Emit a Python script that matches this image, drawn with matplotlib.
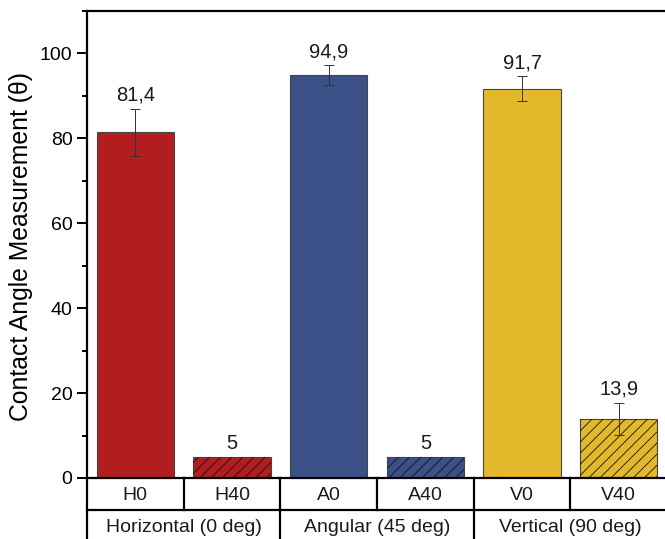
import matplotlib.pyplot as plt
import matplotlib.transforms as mtransforms
from matplotlib.ticker import MultipleLocator

plt.rcParams['font.family'] = ['Liberation Sans', 'DejaVu Sans']
plt.rcParams['hatch.linewidth'] = 0.6

# ------------------------------------------------------
# Data
# ------------------------------------------------------
samples = ["H0", "H40", "A0", "A40", "V0", "V40"]
groups = ["Horizontal (0 deg)", "Angular (45 deg)", "Vertical (90 deg)"]
angles = [81.4, 5, 94.9, 5, 91.7, 13.9]
errors = [5.5, 0, 2.3, 0, 2.9, 3.8]
colors = ["#B21E1F", "#B21E1F", "#3C5088", "#3C5088", "#E3B92C", "#E3B92C"]
hatches = ["", "///", "", "///", "", "///"]


def fmt(v):
    # coma decimal como en el original
    s = f"{v:g}"
    return s.replace(".", ",")


fig = plt.figure(figsize=(6.65, 5.39), dpi=100)
ax = fig.add_axes([87 / 665, 61 / 539, 580 / 665, 467 / 539])

x = list(range(len(samples)))
ax.bar(x, angles, width=0.8, color=colors, edgecolor="#444444",
       linewidth=0.8, zorder=2)
# capa de rayado en negro encima
ax.bar(x, angles, width=0.8, color="none", edgecolor="#111111",
       linewidth=0, hatch=hatches, zorder=2.5)

for xi, v, e in zip(x, angles, errors):
    if e > 0:
        ax.errorbar(xi, v, yerr=e, fmt="none", ecolor="#333333",
                    elinewidth=0.7, capsize=3.3, capthick=0.7, zorder=3)
    ax.annotate(fmt(v), (xi, v + e), xytext=(0, 3), textcoords="offset points",
                ha="center", va="bottom", fontsize=14.5, color="#1a1a1a")

ax.set_xlim(-0.5, 5.5)
ax.set_ylim(0, 110)
ax.yaxis.set_major_locator(MultipleLocator(20))
ax.yaxis.set_minor_locator(MultipleLocator(10))
ax.set_yticks([0, 20, 40, 60, 80, 100])
ax.tick_params(axis="y", which="major", direction="out", length=7.5, width=1.4,
               labelsize=14, pad=3)
ax.tick_params(axis="y", which="minor", direction="out", length=3.8, width=1.4)
ax.tick_params(axis="x", which="both", bottom=False, labelbottom=False)

for side in ["left", "top", "bottom"]:
    ax.spines[side].set_linewidth(1.6)
ax.spines["right"].set_visible(False)

ax.set_ylabel("Contact Angle Measurement (\u03b8)", fontsize=17.8)
ax.yaxis.set_label_coords(-0.093, 0.495)

# ------------------------------------------------------
# Tabla de etiquetas inferior
# ------------------------------------------------------
trans = mtransforms.blended_transform_factory(ax.transData, ax.transAxes)
px = 1 / 467
row1 = -32 * px
row2 = -70 * px
line_kw = dict(color="black", linewidth=1.6, transform=trans, clip_on=False)

ax.plot([-0.5, 5.6], [row1, row1], **line_kw)
ax.plot([-0.5, -0.5], [0, row2], **line_kw)
for b in [0.5, 1.5, 2.5, 3.5, 4.5]:
    ax.plot([b, b], [0, row1], **line_kw)
for b in [1.5, 3.5]:
    ax.plot([b, b], [row1, row2], **line_kw)

for xi, s in zip(x, samples):
    ax.text(xi, -17 * px, s, transform=trans, ha="center", va="center",
            fontsize=14, color="#1a1a1a")
for gi, g in enumerate(groups):
    ax.text(2 * gi + 0.5, -49 * px, g, transform=trans, ha="center",
            va="center", fontsize=14, color="#1a1a1a")

fig.savefig("out.png", dpi=100)
